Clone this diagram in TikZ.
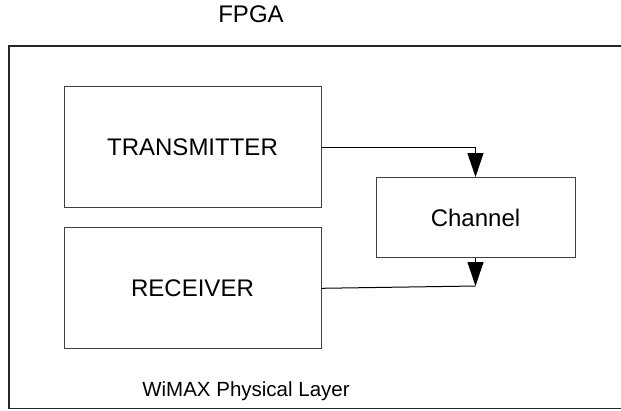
\documentclass[tikz,border=0pt]{standalone}
\usepackage{fontspec}
\setmainfont{Liberation Sans}
\usetikzlibrary{arrows.meta}
\tikzset{
  block/.style={draw=black!75, line width=1pt, inner sep=0pt, font=\fontsize{24}{28}\selectfont},
  flow/.style={line width=1pt, -{Triangle[width=16pt,length=24pt]}}
}
\begin{document}
\begin{tikzpicture}[x=1pt, y=-1pt]
			\useasboundingbox (0,0) rectangle (621,410);
			\clip (0,0) rectangle (621,410);
			\draw[line width=1.3pt, black!85] (9,46) rectangle (640,408.5);
			\node[anchor=base, font=\fontsize{24}{28}\selectfont] (fpga) at (251,22.7) {FPGA};
			\node[anchor=base, font=\fontsize{20.5}{24}\selectfont] (phy) at (246,396) {WiMAX Physical Layer};
			\node[block, minimum width=257pt, minimum height=121pt] (tx) at (192.5,147) {TRANSMITTER};
			\node[block, minimum width=257pt, minimum height=121pt] (rx) at (192.5,288.3) {RECEIVER};
			\node[block, minimum width=199pt, minimum height=80pt] (ch) at (475.5,217.5) {Channel};
			\coordinate (rxin) at (475.5,286);
			\draw[flow] (tx.east) -| (ch.north);
			\draw[flow] (ch.south) -- (rxin);
			\draw[line width=1pt] (rxin) -- (rx.east);
		\end{tikzpicture}
\end{document}
